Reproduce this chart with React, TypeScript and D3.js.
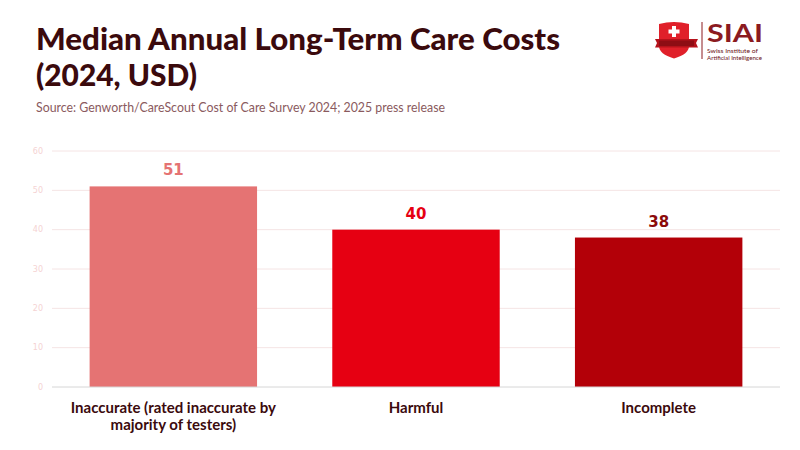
import React, { useEffect, useRef } from "react";
import * as d3 from "d3";

const categories = [
  "Inaccurate (rated inaccurate by majority of testers)",
  "Harmful",
  "Incomplete",
];
const values = [51, 40, 38];
const barColors = ["#e57373", "#e60012", "#b30008"];
const labelColors = ["#e57373", "#e60012", "#8b0a0a"];
const yTicks = [0, 10, 20, 30, 40, 50, 60];

const title = ["Median Annual Long-Term Care Costs", "(2024, USD)"];
const subtitle = "Source: Genworth/CareScout Cost of Care Survey 2024; 2025 press release";

const W = 800;
const H = 450;
const sans = "Lato, 'Liberation Sans', Arial, sans-serif";

const App: React.FC = () => {
  const svgRef = useRef<SVGSVGElement>(null);

  useEffect(() => {
    if (!svgRef.current) return;
    const svg = d3.select(svgRef.current);
    svg.selectAll("*").remove();

    const margin = { top: 151, right: 20, bottom: 63, left: 52 };
    const innerW = W - margin.left - margin.right;
    const innerH = H - margin.top - margin.bottom;

    svg.append("rect").attr("width", W).attr("height", H).attr("fill", "#ffffff");

    // title block
    const t = svg.append("text")
      .attr("font-family", sans)
      .attr("font-weight", 900)
      .attr("font-size", 31)
      .attr("fill", "#3b0a0d");
    t.append("tspan").attr("x", 36).attr("y", 50).attr("textLength", 524)
      .attr("lengthAdjust", "spacingAndGlyphs").text(title[0]);
    t.append("tspan").attr("x", 36).attr("y", 86).attr("textLength", 161)
      .attr("lengthAdjust", "spacingAndGlyphs").text(title[1]);

    svg.append("text")
      .attr("x", 36).attr("y", 112)
      .attr("font-family", sans)
      .attr("font-size", 12.5)
      .attr("fill", "#8a5a5e")
      .attr("textLength", 409)
      .attr("lengthAdjust", "spacingAndGlyphs")
      .text(subtitle);

    // logo
    const logo = svg.append("g");
    logo.append("path")
      .attr("d", "M659,24 Q674,20 689,24 L689,46 Q689,54 674,58.5 Q659,54 659,46 Z")
      .attr("fill", "#e0202a");
    logo.append("path")
      .attr("d", "M655,39 L698,39 L696,43 L698,47.5 L655,47.5 L657,43 Z")
      .attr("fill", "#b5121b");
    logo.append("rect").attr("x", 659).attr("y", 40.5).attr("width", 35).attr("height", 5.5).attr("fill", "#8e0d14");
    logo.append("rect").attr("x", 672).attr("y", 26).attr("width", 4).attr("height", 11).attr("fill", "#fff");
    logo.append("rect").attr("x", 668.5).attr("y", 29.5).attr("width", 11).attr("height", 4).attr("fill", "#fff");
    logo.append("line").attr("x1", 702).attr("x2", 702).attr("y1", 22).attr("y2", 59)
      .attr("stroke", "#8b1a1f").attr("stroke-width", 1);
    logo.append("text").attr("x", 707).attr("y", 41.5)
      .attr("font-family", sans).attr("font-weight", "bold").attr("font-size", 24)
      .attr("fill", "#8b1a1f").attr("textLength", 56).attr("lengthAdjust", "spacingAndGlyphs").text("SIAI");
    logo.append("text").attr("x", 707).attr("y", 53.3)
      .attr("font-family", sans).attr("font-size", 6.5).attr("fill", "#6b1015")
      .attr("textLength", 51).attr("lengthAdjust", "spacingAndGlyphs").text("Swiss Institute of");
    logo.append("text").attr("x", 707).attr("y", 59.5)
      .attr("font-family", sans).attr("font-size", 6.5).attr("fill", "#6b1015")
      .attr("textLength", 55).attr("lengthAdjust", "spacingAndGlyphs").text("Artificial Intelligence");

    const g = svg.append("g").attr("transform", `translate(${margin.left},${margin.top})`);

    const x = d3.scaleBand<string>()
      .domain(categories)
      .range([0, innerW])
      .paddingInner(0.31)
      .paddingOuter(0.155);

    const y = d3.scaleLinear().domain([0, 60]).range([innerH, 0]);

    // grid
    g.append("g")
      .selectAll("line")
      .data(yTicks.filter(d => d !== 0))
      .join("line")
      .attr("x1", 0).attr("x2", innerW)
      .attr("y1", d => y(d)).attr("y2", d => y(d))
      .attr("stroke", "#f5e4e4").attr("stroke-width", 1);

    g.append("g")
      .selectAll("text")
      .data(yTicks)
      .join("text")
      .attr("x", -9).attr("y", d => y(d)).attr("dy", "0.35em")
      .attr("text-anchor", "end")
      .attr("font-family", "'DejaVu Sans', sans-serif")
      .attr("font-size", 8)
      .attr("fill", "#f5d3d3")
      .text(d => d);

    // bars
    g.selectAll("rect.bar")
      .data(values)
      .join("rect")
      .attr("class", "bar")
      .attr("x", (_, i) => x(categories[i])!)
      .attr("width", x.bandwidth())
      .attr("y", d => y(d))
      .attr("height", d => innerH - y(d))
      .attr("fill", (_, i) => barColors[i]);

    // baseline
    g.append("line")
      .attr("x1", 0).attr("x2", innerW)
      .attr("y1", innerH).attr("y2", innerH)
      .attr("stroke", "#d6d6d6").attr("stroke-width", 1);

    // value labels
    g.selectAll("text.val")
      .data(values)
      .join("text")
      .attr("class", "val")
      .attr("x", (_, i) => x(categories[i])! + x.bandwidth() / 2)
      .attr("y", d => y(d) - 11)
      .attr("text-anchor", "middle")
      .attr("font-family", "'DejaVu Sans', sans-serif")
      .attr("font-weight", "bold")
      .attr("font-size", 15)
      .attr("fill", (_, i) => labelColors[i])
      .text(d => d);

    // category labels, wrapped
    const maxW = 215;
    categories.forEach(cat => {
      const cx = x(cat)! + x.bandwidth() / 2;
      const txt = g.append("text")
        .attr("transform", `translate(${cx},${innerH + 26})`)
        .attr("text-anchor", "middle")
        .attr("font-family", sans)
        .attr("font-weight", "bold")
        .attr("font-size", 15)
        .attr("fill", "#3b0a0d");
      const words = cat.split(" ");
      let line: string[] = [];
      let lineNo = 0;
      let tspan = txt.append("tspan").attr("x", 0).attr("y", 0);
      words.forEach(w => {
        line.push(w);
        tspan.text(line.join(" "));
        if ((tspan.node() as SVGTSpanElement).getComputedTextLength() > maxW && line.length > 1) {
          line.pop();
          tspan.text(line.join(" "));
          line = [w];
          lineNo++;
          tspan = txt.append("tspan").attr("x", 0).attr("y", lineNo * 17).text(w);
        }
      });
    });
  }, []);

  return (
    <div style={{ position: "fixed", left: 0, top: 0, width: W, height: H }}>
      <svg ref={svgRef} width={W} height={H} style={{ display: "block" }} />
    </div>
  );
};

export default App;
